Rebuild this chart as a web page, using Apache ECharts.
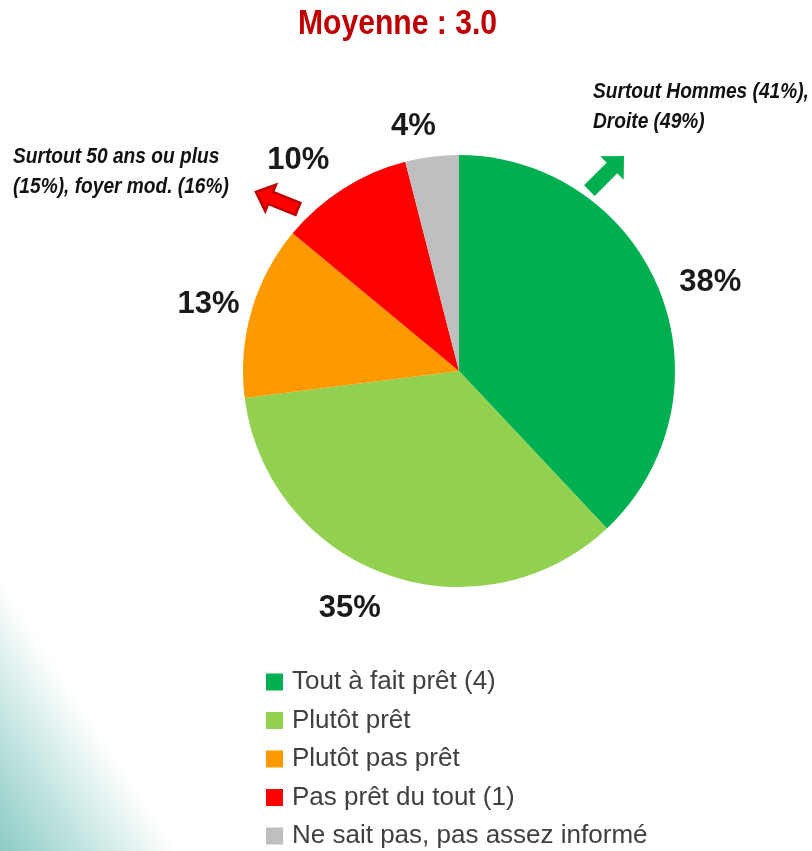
<html>

<head>
    <meta charset="utf-8" />
    <script src="https://cdn.jsdelivr.net/npm/echarts@6/dist/echarts.min.js"></script>
    <style>
        html, body { margin: 0; padding: 0; }
        body {
            width: 812px;
            height: 851px;
            background: linear-gradient(56.7deg, #8ccbc4 0%, #bfe3df 6%, #ffffff 13%);
        }
        #chart { width: 812px; height: 851px; }
    </style>
</head>

<body>
    <div id="chart"></div>

    <script>
        // data
        var categories = ['Tout à fait prêt (4)', 'Plutôt prêt', 'Plutôt pas prêt', 'Pas prêt du tout (1)', 'Ne sait pas, pas assez informé'];
        var shares = [38, 35, 13, 10, 4];
        var palette = ['#00b050', '#92d050', '#ff9900', '#ff0000', '#bfbfbf'];
        var titleText = 'Moyenne : 3.0';
        var noteTop = 'Surtout Hommes (41%),\nDroite (49%)';
        var noteLeft = 'Surtout 50 ans ou plus\n(15%), foyer mod. (16%)';

        // small hand nudges for the % labels (they were placed by hand in the original)
        var labelNudge = [[-8, 0], [8, 12], [16, 0], [4, -8], [12, -6]];

        // no narrow font installed, so the narrow look is faked with scaleX where possible
        var font = '"Liberation Sans", Arial, sans-serif';

        var chart = echarts.init(document.getElementById('chart'));

        // arrow shape, pointing right with its tip at 0,0
        var arrowPts = [[0, 0], [-17, -16.5], [-17, -7.5], [-49, -7.5], [-49, 7.5], [-17, 7.5], [-17, 16.5]];

        var option = {
            animation: false,
            color: palette,
            legend: {
                orient: 'vertical',
                left: 266,
                top: 669,
                height: 182,
                padding: 0,
                icon: 'rect',
                itemWidth: 17,
                itemHeight: 17,
                itemGap: 12.5,
                data: categories,
                textStyle: { fontFamily: font, fontSize: 26, color: '#404040', padding: [0, 0, 0, 4] }
            },
            graphic: [
                {
                    type: 'text', x: 298, y: 7, scaleX: 0.86,
                    style: { text: titleText, fontFamily: font, fontSize: 35, fontWeight: 'bold', fill: '#c00000' }
                },
                {
                    type: 'text', x: 593, y: 77, scaleX: 0.87,
                    style: { text: noteTop, fontFamily: font, fontSize: 22, fontWeight: 'bold', fontStyle: 'italic', lineHeight: 30, fill: '#111' }
                },
                {
                    type: 'text', x: 13, y: 142, scaleX: 0.87,
                    style: { text: noteLeft, fontFamily: font, fontSize: 22, fontWeight: 'bold', fontStyle: 'italic', lineHeight: 30, fill: '#111' }
                },
                {
                    type: 'polygon', x: 624, y: 156, rotation: Math.PI / 4,
                    shape: { points: arrowPts },
                    style: { fill: '#00b050' }
                },
                {
                    type: 'polygon', x: 256, y: 192, rotation: 158 * Math.PI / 180, scaleX: 0.92, scaleY: 0.86,
                    shape: { points: arrowPts },
                    style: { fill: '#ff0000', stroke: '#c00000', lineWidth: 3 }
                }
            ],
            series: [
                {
                    type: 'pie',
                    center: [459, 371],
                    radius: 216,
                    startAngle: 90,
                    clockwise: true,
                    silent: true,
                    data: categories.map(function (c, i) { return { name: c, value: shares[i] }; }),
                    label: {
                        show: true,
                        position: 'outside',
                        formatter: '{c}%',
                        fontFamily: font,
                        fontSize: 31,
                        fontWeight: 'bold',
                        color: '#1a1a1a'
                    },
                    labelLine: { show: false, length: 24, length2: 0 },
                    labelLayout: function (params) {
                        var n = labelNudge[params.dataIndex] || [0, 0];
                        return { dx: n[0], dy: n[1] };
                    }
                }
            ]
        };

        chart.setOption(option);
    </script>
</body>

</html>
